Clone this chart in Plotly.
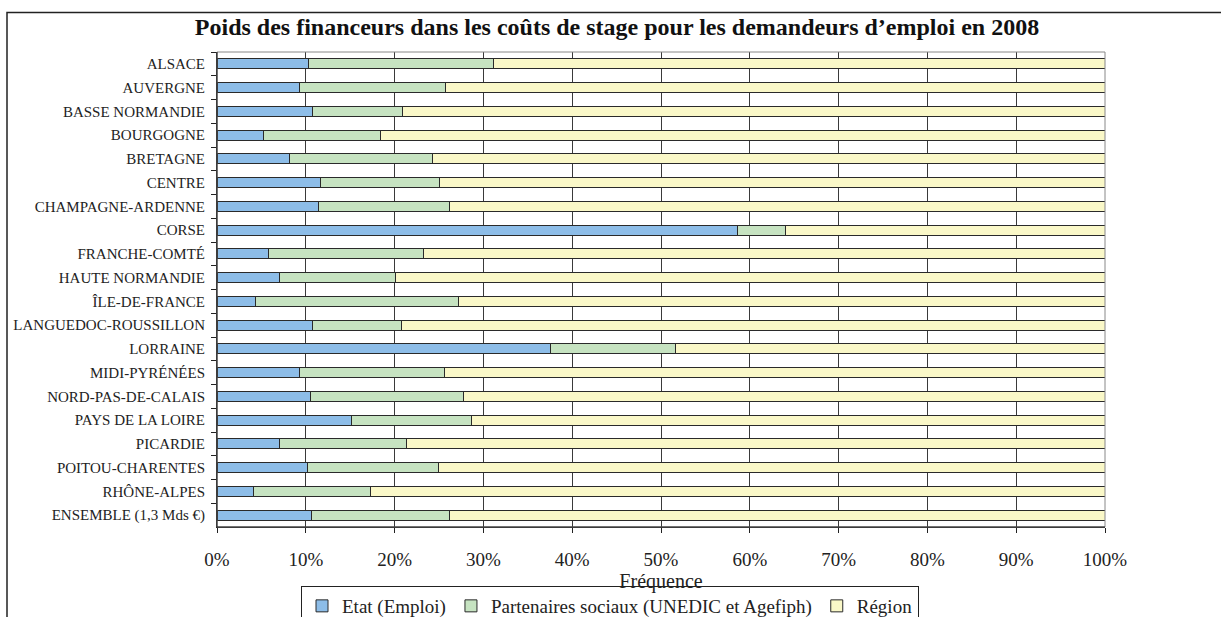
import plotly.graph_objects as go

regions = ["ALSACE", "AUVERGNE", "BASSE NORMANDIE", "BOURGOGNE", "BRETAGNE", "CENTRE",
           "CHAMPAGNE-ARDENNE", "CORSE", "FRANCHE-COMTÉ", "HAUTE NORMANDIE", "ÎLE-DE-FRANCE",
           "LANGUEDOC-ROUSSILLON", "LORRAINE", "MIDI-PYRÉNÉES", "NORD-PAS-DE-CALAIS",
           "PAYS DE LA LOIRE", "PICARDIE", "POITOU-CHARENTES", "RHÔNE-ALPES",
           "ENSEMBLE (1,3 Mds €)"]
etat = [10.3, 9.3, 10.8, 5.2, 8.2, 11.6, 11.4, 58.6, 5.8, 7.0, 4.3, 10.8, 37.5, 9.3, 10.5,
        15.1, 7.0, 10.2, 4.1, 10.6]
partenaires = [20.8, 16.4, 10.1, 13.2, 16.1, 13.5, 14.8, 5.4, 17.4, 13.1, 22.9, 10.0, 14.1,
               16.3, 17.3, 13.6, 14.3, 14.7, 13.2, 15.6]
region = [68.9, 74.3, 79.1, 81.6, 75.7, 74.9, 73.8, 36.0, 76.8, 79.9, 72.8, 79.2, 48.4, 74.4,
          72.2, 71.3, 78.7, 75.1, 82.7, 73.8]
series_names = ["Etat (Emploi)", "Partenaires sociaux (UNEDIC et Agefiph)", "Région"]
x_ticks = [0, 10, 20, 30, 40, 50, 60, 70, 80, 90, 100]

colors = ["#8DBDE8", "#C6E3C1", "#FAF8C8"]
FONT = "Liberation Serif"

fig = go.Figure()
for name, vals, col in zip(series_names, [etat, partenaires, region], colors):
    fig.add_trace(go.Bar(
        y=regions, x=vals, name=name, orientation="h",
        marker=dict(color=col, line=dict(color="#2a2a2a", width=1)),
    ))

# plot area in px: x 217..1105, y 52..527
W, H = 1221, 617
L, R, T, B = 217, 1105, 52, 527
pw, ph = R - L, B - T

def px(x):
    return (x - L) / pw

def py(y):
    return (B - y) / ph

fig.update_layout(
    width=W, height=H,
    margin=dict(l=L, r=W - R, t=T, b=H - B, pad=0, autoexpand=False),
    barmode="stack", bargap=0.57,
    plot_bgcolor="white", paper_bgcolor="white",
    font=dict(family=FONT, color="#222"),
    title=dict(text="<b>Poids des financeurs dans les coûts de stage pour les demandeurs d’emploi en 2008</b>",
               x=617 / W, xanchor="center", xref="container",
               y=1 - 27 / H, yanchor="middle", yref="container",
               font=dict(family=FONT, size=24, color="#111")),
    xaxis=dict(range=[0, 100], tickvals=x_ticks, ticktext=[f"{v}%" for v in x_ticks],
               showgrid=True, gridcolor="#3a3a3a", gridwidth=1,
               showline=True, linecolor="#222", linewidth=1,
               ticks="outside", ticklen=5, tickcolor="#222",
               tickfont=dict(family=FONT, size=19, color="#222"),
               ticklabelstandoff=10,
               title=dict(text="Fréquence", font=dict(family=FONT, size=20, color="#222"),
                          standoff=0),
               zeroline=False, fixedrange=True, automargin=False),
    yaxis=dict(categoryorder="array", categoryarray=regions, autorange="reversed",
               showline=True, linecolor="#222", linewidth=1,
               ticks="outside", ticklen=5, tickcolor="#222", tickson="boundaries",
               tickfont=dict(family=FONT, size=15, color="#222"),
               ticklabelstandoff=8,
               showgrid=False, fixedrange=True, automargin=False),
    legend=dict(orientation="h", x=px(610), xanchor="center", y=py(606), yanchor="middle",
                bordercolor="#222", borderwidth=1, bgcolor="white",
                font=dict(family=FONT, size=19, color="#222"),
                itemwidth=30, traceorder="normal", tracegroupgap=0),
    showlegend=True,
)

# plot frame (gray top/right)
fig.add_shape(type="rect", xref="paper", yref="paper", x0=0, x1=1, y0=0, y1=1,
              line=dict(color="#888", width=1), layer="above")
fig.add_shape(type="line", xref="paper", yref="paper", x0=0, x1=0, y0=0, y1=1,
              line=dict(color="#222", width=1), layer="above")
fig.add_shape(type="line", xref="paper", yref="paper", x0=0, x1=1, y0=0, y1=0,
              line=dict(color="#222", width=1), layer="above")
# outer chart frame
fig.add_shape(type="rect", xref="paper", yref="paper",
              x0=px(7), x1=px(1230), y0=py(630), y1=py(12.5),
              line=dict(color="#222", width=1.5), layer="below")

fig.write_html("out.html", config={"displayModeBar": False},
               post_script="document.body.style.margin='0';")
